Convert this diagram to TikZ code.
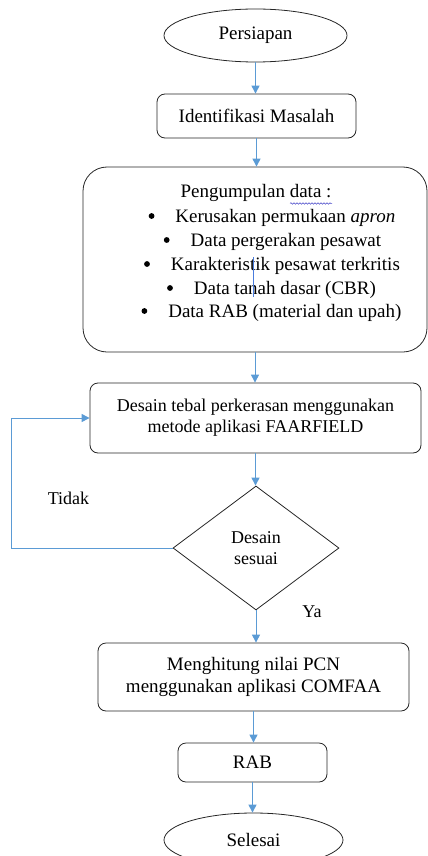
\documentclass[tikz,border=0pt]{standalone}
\usepackage{fontspec}
\setmainfont{Liberation Serif}
\usetikzlibrary{shapes.geometric,arrows.meta,decorations.pathmorphing}
\definecolor{arrblue}{RGB}{91,155,213}
\definecolor{wavyblue}{RGB}{70,70,200}
\newcommand{\mybul}{\tikz[baseline=-6.5pt,x=1pt,y=1pt]\fill (0,0) circle (2.9pt);}
\begin{document}
\begin{tikzpicture}[x=1pt,y=-1pt,
  outline/.style={draw=black!85, line width=0.8pt},
  box/.style={outline, rounded corners=8pt, inner sep=0pt, align=center},
  term/.style={outline, ellipse, inner sep=0pt},
  big/.style={font=\fontsize{19}{22}\selectfont},
  mid/.style={font=\fontsize{18}{21}\selectfont},
  txt/.style={inner sep=0pt, text height=13pt, text depth=4pt},
  arr/.style={draw=arrblue, line width=1pt, -{Triangle[width=8pt,length=8pt]}},
]
\useasboundingbox (0,0) rectangle (428,856);

% nodes
\node[term, big, minimum width=183pt, minimum height=53pt] (per) at (255.5,35.5) {Persiapan};
\node[box, big, minimum width=199pt, minimum height=44pt] (idm) at (256.5,116) {Identifikasi Masalah};
\node[outline, rounded corners=24pt, minimum width=344pt, minimum height=185pt, inner sep=0pt] (pd) at (255,259.5) {};
\node[box, mid, minimum width=331pt, minimum height=70pt] (ds) at (255.5,418) {Desain tebal perkerasan menggunakan\\[0pt]metode aplikasi FAARFIELD};
\node[outline, diamond, mid, minimum width=166pt, minimum height=124pt, inner sep=0pt, align=center] (dia) at (256,548) {Desain\\sesuai};
\node[box, big, minimum width=311pt, minimum height=68pt] (mh) at (253.5,677) {Menghitung nilai PCN\\menggunakan aplikasi COMFAA};
\node[box, big, minimum width=149pt, minimum height=39pt] (rab) at (252.5,762.5) {RAB};
\node[term, big, minimum width=179pt, minimum height=54pt] (sel) at (253.5,840) {Selesai};

% text in data box
\node[txt, big] (l0) at (256,193) {Pengumpulan data :};
\node[txt, big] (l1) at (272,218) {\mybul\hspace{21pt}Kerusakan permukaan \textit{apron}};
\node[txt, big] (l2) at (272.5,242) {\mybul\hspace{21pt}Data pergerakan pesawat};
\node[txt, big] (l3) at (272,266) {\mybul\hspace{21pt}Karakteristik pesawat terkritis};
\node[txt, big] (l4) at (271.5,290) {\mybul\hspace{21pt}Data tanah dasar (CBR)};
\node[txt, big] (l5) at (271.5,313) {\mybul\hspace{21pt}Data RAB (material dan upah)};

% artifacts visible in the picture
\draw[wavyblue, line width=0.5pt, decorate, decoration={snake, amplitude=0.8pt, segment length=3pt}] (290,203.5) -- (332,203.5);
\draw[arrblue!80!blue, line width=0.9pt] (253,257) -- (253,297);

% labels
\node[txt, mid] (tidak) at (68.5,500) {Tidak};
\node[txt, mid] (ya) at (312,613) {Ya};

% connectors
\draw[arr] (per.south) -- (per.south |- idm.north);
\draw[arr] (idm.south) -- (idm.south |- pd.north);
\draw[arr] (pd.south) -- (pd.south |- ds.north);
\draw[arr] (ds.south) -- (ds.south |- dia.north);
\draw[arr] (dia.south) -- (dia.south |- mh.north);
\draw[arr] (mh.south) -- (mh.south |- rab.north);
\draw[arr] (rab.south) -- (rab.south |- sel.north);
\coordinate (fb) at (11,548);
\draw[arr] (dia.west) -- (fb) |- (ds.west);
\end{tikzpicture}
\end{document}
